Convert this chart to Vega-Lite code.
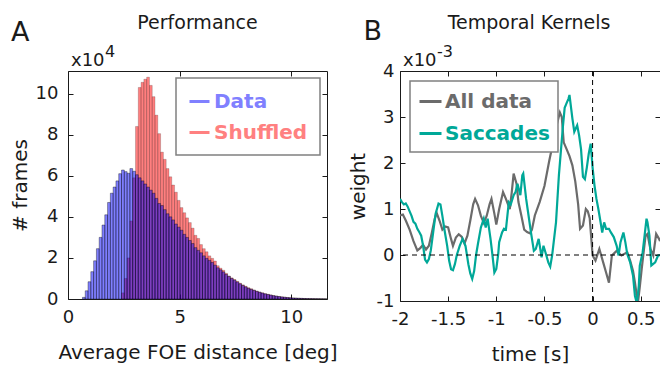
{
  "$schema": "https://vega.github.io/schema/vega-lite/v6.json",
  "background": "white",
  "padding": {"left": 9, "top": 13, "right": 0, "bottom": 0},
  "spacing": 73,
  "bounds": "flush",
  "config": {
    "font": "DejaVu Sans",
    "view": {"stroke": "#1a1a1a", "strokeWidth": 1},
    "axis": {
      "domain": false, "grid": false, "tickColor": "#1a1a1a", "tickSize": -5, "tickWidth": 1, "labelFlush": false,
      "labelColor": "#1a1a1a", "titleColor": "#1a1a1a", "labelFontSize": 18, "titleFontSize": 20,
      "titleFontWeight": "normal", "labelFont": "DejaVu Sans", "titleFont": "DejaVu Sans"
    },
    "text": {"font": "DejaVu Sans", "color": "#1a1a1a"}
  },
  "resolve": {"scale": {"x": "independent", "y": "independent", "fill": "independent", "color": "independent"}},
  "hconcat": [
    {
      "width": 259,
      "height": 228,
      "resolve": {"axis": {"x": "independent", "y": "independent"}},
      "layer": [
        {
          "data": {"values": [
            {"series": "Shuffled", "bin_start": 2.375, "frames": 0.3},
            {"series": "Shuffled", "bin_start": 2.5, "frames": 1.0},
            {"series": "Shuffled", "bin_start": 2.625, "frames": 2.0},
            {"series": "Shuffled", "bin_start": 2.75, "frames": 3.8},
            {"series": "Shuffled", "bin_start": 2.875, "frames": 5.9},
            {"series": "Shuffled", "bin_start": 3.0, "frames": 8.4},
            {"series": "Shuffled", "bin_start": 3.125, "frames": 10.3},
            {"series": "Shuffled", "bin_start": 3.25, "frames": 10.55},
            {"series": "Shuffled", "bin_start": 3.375, "frames": 10.7},
            {"series": "Shuffled", "bin_start": 3.5, "frames": 10.8},
            {"series": "Shuffled", "bin_start": 3.625, "frames": 10.4},
            {"series": "Shuffled", "bin_start": 3.75, "frames": 9.85},
            {"series": "Shuffled", "bin_start": 3.875, "frames": 8.95},
            {"series": "Shuffled", "bin_start": 4.0, "frames": 8.05},
            {"series": "Shuffled", "bin_start": 4.125, "frames": 7.15},
            {"series": "Shuffled", "bin_start": 4.25, "frames": 6.8},
            {"series": "Shuffled", "bin_start": 4.375, "frames": 6.35},
            {"series": "Shuffled", "bin_start": 4.5, "frames": 5.95},
            {"series": "Shuffled", "bin_start": 4.625, "frames": 5.55},
            {"series": "Shuffled", "bin_start": 4.75, "frames": 5.2},
            {"series": "Shuffled", "bin_start": 4.875, "frames": 4.8},
            {"series": "Shuffled", "bin_start": 5.0, "frames": 4.45},
            {"series": "Shuffled", "bin_start": 5.125, "frames": 4.2},
            {"series": "Shuffled", "bin_start": 5.25, "frames": 3.95},
            {"series": "Shuffled", "bin_start": 5.375, "frames": 3.72},
            {"series": "Shuffled", "bin_start": 5.5, "frames": 3.45},
            {"series": "Shuffled", "bin_start": 5.625, "frames": 3.1},
            {"series": "Shuffled", "bin_start": 5.75, "frames": 2.95},
            {"series": "Shuffled", "bin_start": 5.875, "frames": 2.65},
            {"series": "Shuffled", "bin_start": 6.0, "frames": 2.45},
            {"series": "Shuffled", "bin_start": 6.125, "frames": 2.3},
            {"series": "Shuffled", "bin_start": 6.25, "frames": 2.1},
            {"series": "Shuffled", "bin_start": 6.375, "frames": 1.98},
            {"series": "Shuffled", "bin_start": 6.5, "frames": 1.85},
            {"series": "Shuffled", "bin_start": 6.625, "frames": 1.62},
            {"series": "Shuffled", "bin_start": 6.75, "frames": 1.5},
            {"series": "Shuffled", "bin_start": 6.875, "frames": 1.4},
            {"series": "Shuffled", "bin_start": 7.0, "frames": 1.25},
            {"series": "Shuffled", "bin_start": 7.125, "frames": 1.12},
            {"series": "Shuffled", "bin_start": 7.25, "frames": 1.03},
            {"series": "Shuffled", "bin_start": 7.375, "frames": 0.95},
            {"series": "Shuffled", "bin_start": 7.5, "frames": 0.86},
            {"series": "Shuffled", "bin_start": 7.625, "frames": 0.77},
            {"series": "Shuffled", "bin_start": 7.75, "frames": 0.69},
            {"series": "Shuffled", "bin_start": 7.875, "frames": 0.62},
            {"series": "Shuffled", "bin_start": 8.0, "frames": 0.55},
            {"series": "Shuffled", "bin_start": 8.125, "frames": 0.5},
            {"series": "Shuffled", "bin_start": 8.25, "frames": 0.44},
            {"series": "Shuffled", "bin_start": 8.375, "frames": 0.39},
            {"series": "Shuffled", "bin_start": 8.5, "frames": 0.34},
            {"series": "Shuffled", "bin_start": 8.625, "frames": 0.3},
            {"series": "Shuffled", "bin_start": 8.75, "frames": 0.26},
            {"series": "Shuffled", "bin_start": 8.875, "frames": 0.23},
            {"series": "Shuffled", "bin_start": 9.0, "frames": 0.2},
            {"series": "Shuffled", "bin_start": 9.125, "frames": 0.17},
            {"series": "Shuffled", "bin_start": 9.25, "frames": 0.145},
            {"series": "Shuffled", "bin_start": 9.375, "frames": 0.125},
            {"series": "Shuffled", "bin_start": 9.5, "frames": 0.105},
            {"series": "Shuffled", "bin_start": 9.625, "frames": 0.09},
            {"series": "Shuffled", "bin_start": 9.75, "frames": 0.075},
            {"series": "Shuffled", "bin_start": 9.875, "frames": 0.063},
            {"series": "Shuffled", "bin_start": 10.0, "frames": 0.053},
            {"series": "Shuffled", "bin_start": 10.125, "frames": 0.045},
            {"series": "Shuffled", "bin_start": 10.25, "frames": 0.037},
            {"series": "Shuffled", "bin_start": 10.375, "frames": 0.031},
            {"series": "Shuffled", "bin_start": 10.5, "frames": 0.026},
            {"series": "Shuffled", "bin_start": 10.625, "frames": 0.021},
            {"series": "Shuffled", "bin_start": 10.75, "frames": 0.018},
            {"series": "Shuffled", "bin_start": 10.875, "frames": 0.015},
            {"series": "Shuffled", "bin_start": 11.0, "frames": 0.012},
            {"series": "Shuffled", "bin_start": 11.125, "frames": 0.01},
            {"series": "Shuffled", "bin_start": 11.25, "frames": 0.008},
            {"series": "Shuffled", "bin_start": 11.375, "frames": 0.006},
            {"series": "Shuffled", "bin_start": 11.5, "frames": 0.005},
            {"series": "Data", "bin_start": 0.625, "frames": 0.08},
            {"series": "Data", "bin_start": 0.75, "frames": 0.4},
            {"series": "Data", "bin_start": 0.875, "frames": 0.84},
            {"series": "Data", "bin_start": 1.0, "frames": 1.33},
            {"series": "Data", "bin_start": 1.125, "frames": 1.86},
            {"series": "Data", "bin_start": 1.25, "frames": 2.45},
            {"series": "Data", "bin_start": 1.375, "frames": 3.0},
            {"series": "Data", "bin_start": 1.5, "frames": 3.6},
            {"series": "Data", "bin_start": 1.625, "frames": 4.1},
            {"series": "Data", "bin_start": 1.75, "frames": 4.7},
            {"series": "Data", "bin_start": 1.875, "frames": 5.15},
            {"series": "Data", "bin_start": 2.0, "frames": 5.45},
            {"series": "Data", "bin_start": 2.125, "frames": 5.75},
            {"series": "Data", "bin_start": 2.25, "frames": 6.1},
            {"series": "Data", "bin_start": 2.375, "frames": 6.28},
            {"series": "Data", "bin_start": 2.5, "frames": 6.2},
            {"series": "Data", "bin_start": 2.625, "frames": 6.12},
            {"series": "Data", "bin_start": 2.75, "frames": 6.35},
            {"series": "Data", "bin_start": 2.875, "frames": 6.22},
            {"series": "Data", "bin_start": 3.0, "frames": 6.05},
            {"series": "Data", "bin_start": 3.125, "frames": 5.9},
            {"series": "Data", "bin_start": 3.25, "frames": 5.75},
            {"series": "Data", "bin_start": 3.375, "frames": 5.6},
            {"series": "Data", "bin_start": 3.5, "frames": 5.45},
            {"series": "Data", "bin_start": 3.625, "frames": 5.3},
            {"series": "Data", "bin_start": 3.75, "frames": 5.15},
            {"series": "Data", "bin_start": 3.875, "frames": 4.9},
            {"series": "Data", "bin_start": 4.0, "frames": 4.65},
            {"series": "Data", "bin_start": 4.125, "frames": 4.55},
            {"series": "Data", "bin_start": 4.25, "frames": 4.35},
            {"series": "Data", "bin_start": 4.375, "frames": 4.15},
            {"series": "Data", "bin_start": 4.5, "frames": 4.0},
            {"series": "Data", "bin_start": 4.625, "frames": 3.85},
            {"series": "Data", "bin_start": 4.75, "frames": 3.65},
            {"series": "Data", "bin_start": 4.875, "frames": 3.5},
            {"series": "Data", "bin_start": 5.0, "frames": 3.35},
            {"series": "Data", "bin_start": 5.125, "frames": 3.15},
            {"series": "Data", "bin_start": 5.25, "frames": 3.0},
            {"series": "Data", "bin_start": 5.375, "frames": 2.85},
            {"series": "Data", "bin_start": 5.5, "frames": 2.7},
            {"series": "Data", "bin_start": 5.625, "frames": 2.5},
            {"series": "Data", "bin_start": 5.75, "frames": 2.37},
            {"series": "Data", "bin_start": 5.875, "frames": 2.25},
            {"series": "Data", "bin_start": 6.0, "frames": 2.1},
            {"series": "Data", "bin_start": 6.125, "frames": 1.98},
            {"series": "Data", "bin_start": 6.25, "frames": 1.88},
            {"series": "Data", "bin_start": 6.375, "frames": 1.78},
            {"series": "Data", "bin_start": 6.5, "frames": 1.65},
            {"series": "Data", "bin_start": 6.625, "frames": 1.52},
            {"series": "Data", "bin_start": 6.75, "frames": 1.42},
            {"series": "Data", "bin_start": 6.875, "frames": 1.32},
            {"series": "Data", "bin_start": 7.0, "frames": 1.2},
            {"series": "Data", "bin_start": 7.125, "frames": 1.1},
            {"series": "Data", "bin_start": 7.25, "frames": 1.0},
            {"series": "Data", "bin_start": 7.375, "frames": 0.92},
            {"series": "Data", "bin_start": 7.5, "frames": 0.83},
            {"series": "Data", "bin_start": 7.625, "frames": 0.74},
            {"series": "Data", "bin_start": 7.75, "frames": 0.66},
            {"series": "Data", "bin_start": 7.875, "frames": 0.59},
            {"series": "Data", "bin_start": 8.0, "frames": 0.52},
            {"series": "Data", "bin_start": 8.125, "frames": 0.47},
            {"series": "Data", "bin_start": 8.25, "frames": 0.42},
            {"series": "Data", "bin_start": 8.375, "frames": 0.37},
            {"series": "Data", "bin_start": 8.5, "frames": 0.33},
            {"series": "Data", "bin_start": 8.625, "frames": 0.29},
            {"series": "Data", "bin_start": 8.75, "frames": 0.25},
            {"series": "Data", "bin_start": 8.875, "frames": 0.22},
            {"series": "Data", "bin_start": 9.0, "frames": 0.19},
            {"series": "Data", "bin_start": 9.125, "frames": 0.16},
            {"series": "Data", "bin_start": 9.25, "frames": 0.14},
            {"series": "Data", "bin_start": 9.375, "frames": 0.12},
            {"series": "Data", "bin_start": 9.5, "frames": 0.1},
            {"series": "Data", "bin_start": 9.625, "frames": 0.085},
            {"series": "Data", "bin_start": 9.75, "frames": 0.07},
            {"series": "Data", "bin_start": 9.875, "frames": 0.06},
            {"series": "Data", "bin_start": 10.0, "frames": 0.05},
            {"series": "Data", "bin_start": 10.125, "frames": 0.042},
            {"series": "Data", "bin_start": 10.25, "frames": 0.035},
            {"series": "Data", "bin_start": 10.375, "frames": 0.03},
            {"series": "Data", "bin_start": 10.5, "frames": 0.025},
            {"series": "Data", "bin_start": 10.625, "frames": 0.02},
            {"series": "Data", "bin_start": 10.75, "frames": 0.017},
            {"series": "Data", "bin_start": 10.875, "frames": 0.014},
            {"series": "Data", "bin_start": 11.0, "frames": 0.012},
            {"series": "Data", "bin_start": 11.125, "frames": 0.01},
            {"series": "Data", "bin_start": 11.25, "frames": 0.008},
            {"series": "Data", "bin_start": 11.375, "frames": 0.006},
            {"series": "Data", "bin_start": 11.5, "frames": 0.005}
          ]},
          "mark": {"type": "bar", "stroke": "black", "strokeWidth": 0.6, "fillOpacity": 0.5, "binSpacing": 0, "clip": true},
          "encoding": {
            "x": {"field": "bin_start", "type": "quantitative", "bin": {"binned": true, "step": 0.125},
              "scale": {"domain": [0, 11.6], "nice": false, "zero": false},
              "axis": {"orient": "bottom", "values": [0, 5, 10], "labelExpr": "datum.value + ''", "title": "Average FOE distance [deg]", "labelPadding": 14, "titlePadding": 16}},
            "y": {"field": "frames", "type": "quantitative", "stack": null,
              "scale": {"domain": [0, 11.1], "nice": false},
              "axis": {"orient": "left", "values": [0, 2, 4, 6, 8, 10], "labelExpr": "datum.value + ''", "title": "# frames", "labelPadding": 15, "titlePadding": 5}},
            "fill": {"field": "series", "type": "nominal",
              "scale": {"domain": ["Data", "Shuffled"], "range": ["#0000ff", "#ff0000"]},
              "legend": {
                "orient": "top-right", "offset": 7, "title": null,
                "symbolType": "stroke", "symbolSize": 400, "symbolStrokeWidth": 3,
                "symbolStrokeColor": {"expr": "datum.value === 'Data' ? '#8080ff' : '#ff8080'"},
                "symbolOpacity": 1,
                "labelColor": {"expr": "datum.value === 'Data' ? '#8080ff' : '#ff8080'"},
                "labelFontSize": 20, "labelFontWeight": "bold", "labelOffset": 3,
                "padding": 12, "rowPadding": 9, "strokeColor": "#808080", "fillColor": "white",
                "encode": {
                  "legend": {"update": {"strokeWidth": {"value": 1.5}}}
                }
              }},
            "strokeOpacity": {"condition": {"test": "datum.series === 'Data'", "value": 0.6}, "value": 0.3}
          }
        },
        {
          "data": {"values": [{"label": "x10"}]},
          "mark": {"type": "text", "align": "left", "baseline": "alphabetic", "fontSize": 18, "dx": 3, "dy": -5},
          "encoding": {
            "x": {"datum": 0, "type": "quantitative", "axis": {"orient": "top", "values": [0, 5, 10], "labels": false, "title": null}},
            "y": {"datum": 11.1, "type": "quantitative", "axis": {"orient": "right", "values": [0, 2, 4, 6, 8, 10], "labels": false, "title": null}},
            "text": {"field": "label"}
          }
        },
        {
          "data": {"values": [{"label": "4"}]},
          "mark": {"type": "text", "align": "left", "baseline": "alphabetic", "fontSize": 16, "dx": 37, "dy": -14},
          "encoding": {
            "x": {"datum": 0, "type": "quantitative", "axis": null},
            "y": {"datum": 11.1, "type": "quantitative", "axis": null},
            "text": {"field": "label"}
          }
        },
        {
          "data": {"values": [{"label": "A"}]},
          "mark": {"type": "text", "align": "left", "baseline": "alphabetic", "fontSize": 27, "dy": -30},
          "encoding": {
            "x": {"datum": -2.55, "type": "quantitative", "axis": null},
            "y": {"datum": 11.1, "type": "quantitative", "axis": null},
            "text": {"field": "label"}
          }
        },
        {
          "data": {"values": [{"label": "Performance"}]},
          "mark": {"type": "text", "align": "center", "baseline": "alphabetic", "fontSize": 19, "dy": -42},
          "encoding": {
            "x": {"datum": 5.8, "type": "quantitative", "axis": null},
            "y": {"datum": 11.1, "type": "quantitative", "axis": null},
            "text": {"field": "label"}
          }
        }
      ]
    },
    {
      "width": 260,
      "height": 230,
      "resolve": {"axis": {"x": "independent", "y": "independent"}},
      "layer": [
        {
          "data": {"values": [
            {"series": "All data", "t": -2.0, "w": 0.86},
            {"series": "All data", "t": -1.97, "w": 0.88},
            {"series": "All data", "t": -1.94, "w": 0.75},
            {"series": "All data", "t": -1.9, "w": 0.55},
            {"series": "All data", "t": -1.86, "w": 0.3},
            {"series": "All data", "t": -1.82, "w": 0.1},
            {"series": "All data", "t": -1.79, "w": 0.15},
            {"series": "All data", "t": -1.76, "w": 0.22},
            {"series": "All data", "t": -1.73, "w": 0.12},
            {"series": "All data", "t": -1.7, "w": 0.2},
            {"series": "All data", "t": -1.67, "w": 0.48},
            {"series": "All data", "t": -1.64, "w": 0.78},
            {"series": "All data", "t": -1.62, "w": 0.92},
            {"series": "All data", "t": -1.59, "w": 0.75},
            {"series": "All data", "t": -1.56, "w": 0.55},
            {"series": "All data", "t": -1.53, "w": 0.62},
            {"series": "All data", "t": -1.5, "w": 0.6},
            {"series": "All data", "t": -1.47, "w": 0.35},
            {"series": "All data", "t": -1.45, "w": 0.2},
            {"series": "All data", "t": -1.42, "w": 0.38},
            {"series": "All data", "t": -1.39, "w": 0.45},
            {"series": "All data", "t": -1.36, "w": 0.4},
            {"series": "All data", "t": -1.33, "w": 0.25},
            {"series": "All data", "t": -1.3, "w": 0.42},
            {"series": "All data", "t": -1.27, "w": 0.75},
            {"series": "All data", "t": -1.24, "w": 1.1},
            {"series": "All data", "t": -1.22, "w": 1.22},
            {"series": "All data", "t": -1.19, "w": 1.08},
            {"series": "All data", "t": -1.16, "w": 0.85},
            {"series": "All data", "t": -1.13, "w": 0.7},
            {"series": "All data", "t": -1.1, "w": 0.85},
            {"series": "All data", "t": -1.07, "w": 1.1},
            {"series": "All data", "t": -1.05, "w": 1.22},
            {"series": "All data", "t": -1.02, "w": 0.9},
            {"series": "All data", "t": -1.0, "w": 0.66},
            {"series": "All data", "t": -0.97, "w": 1.0},
            {"series": "All data", "t": -0.93, "w": 1.37},
            {"series": "All data", "t": -0.9, "w": 1.22},
            {"series": "All data", "t": -0.86, "w": 1.0},
            {"series": "All data", "t": -0.84, "w": 1.35},
            {"series": "All data", "t": -0.82, "w": 1.77},
            {"series": "All data", "t": -0.79, "w": 1.55},
            {"series": "All data", "t": -0.77, "w": 1.15},
            {"series": "All data", "t": -0.74, "w": 0.86},
            {"series": "All data", "t": -0.71, "w": 0.55},
            {"series": "All data", "t": -0.68, "w": 0.5},
            {"series": "All data", "t": -0.65, "w": 0.47},
            {"series": "All data", "t": -0.63, "w": 0.55},
            {"series": "All data", "t": -0.6, "w": 0.86},
            {"series": "All data", "t": -0.55, "w": 1.15},
            {"series": "All data", "t": -0.5, "w": 1.5},
            {"series": "All data", "t": -0.45, "w": 2.05},
            {"series": "All data", "t": -0.4, "w": 2.55},
            {"series": "All data", "t": -0.37, "w": 2.85},
            {"series": "All data", "t": -0.34, "w": 3.1},
            {"series": "All data", "t": -0.32, "w": 3.0},
            {"series": "All data", "t": -0.3, "w": 2.45},
            {"series": "All data", "t": -0.27, "w": 2.3},
            {"series": "All data", "t": -0.24, "w": 2.15},
            {"series": "All data", "t": -0.21, "w": 1.95},
            {"series": "All data", "t": -0.18, "w": 1.6},
            {"series": "All data", "t": -0.15, "w": 1.1},
            {"series": "All data", "t": -0.13, "w": 0.57},
            {"series": "All data", "t": -0.1, "w": 0.64},
            {"series": "All data", "t": -0.07, "w": 1.0},
            {"series": "All data", "t": -0.05, "w": 0.95},
            {"series": "All data", "t": -0.03, "w": 0.8},
            {"series": "All data", "t": -0.015, "w": 0.4},
            {"series": "All data", "t": 0.0, "w": -0.01},
            {"series": "All data", "t": 0.03, "w": -0.12},
            {"series": "All data", "t": 0.07, "w": 0.13},
            {"series": "All data", "t": 0.11, "w": -0.16},
            {"series": "All data", "t": 0.14, "w": -0.38},
            {"series": "All data", "t": 0.17, "w": -0.6},
            {"series": "All data", "t": 0.2, "w": -0.01},
            {"series": "All data", "t": 0.25, "w": 0.09},
            {"series": "All data", "t": 0.3, "w": -0.01},
            {"series": "All data", "t": 0.36, "w": 0.06},
            {"series": "All data", "t": 0.39, "w": -0.12},
            {"series": "All data", "t": 0.42, "w": -0.35},
            {"series": "All data", "t": 0.44, "w": -0.6},
            {"series": "All data", "t": 0.47, "w": -1.05},
            {"series": "All data", "t": 0.49, "w": -0.7},
            {"series": "All data", "t": 0.51, "w": -0.3},
            {"series": "All data", "t": 0.55, "w": 0.42},
            {"series": "All data", "t": 0.57, "w": 0.46},
            {"series": "All data", "t": 0.6, "w": 0.13},
            {"series": "All data", "t": 0.63, "w": -0.01},
            {"series": "All data", "t": 0.66, "w": 0.46},
            {"series": "All data", "t": 0.69, "w": 0.35},
            {"series": "All data", "t": 0.7, "w": 0.3},
            {"series": "Saccades", "t": -2.0, "w": 1.22},
            {"series": "Saccades", "t": -1.98, "w": 1.15},
            {"series": "Saccades", "t": -1.96, "w": 1.1},
            {"series": "Saccades", "t": -1.94, "w": 1.12},
            {"series": "Saccades", "t": -1.92, "w": 1.05},
            {"series": "Saccades", "t": -1.9, "w": 0.95},
            {"series": "Saccades", "t": -1.88, "w": 0.85},
            {"series": "Saccades", "t": -1.86, "w": 0.72},
            {"series": "Saccades", "t": -1.84, "w": 0.68},
            {"series": "Saccades", "t": -1.82, "w": 0.57},
            {"series": "Saccades", "t": -1.8, "w": 0.5},
            {"series": "Saccades", "t": -1.78, "w": 0.42},
            {"series": "Saccades", "t": -1.76, "w": 0.2},
            {"series": "Saccades", "t": -1.74, "w": -0.1},
            {"series": "Saccades", "t": -1.72, "w": -0.16},
            {"series": "Saccades", "t": -1.7, "w": -0.09},
            {"series": "Saccades", "t": -1.68, "w": 0.1},
            {"series": "Saccades", "t": -1.66, "w": 0.42},
            {"series": "Saccades", "t": -1.63, "w": 0.9},
            {"series": "Saccades", "t": -1.6, "w": 1.12},
            {"series": "Saccades", "t": -1.58, "w": 1.1},
            {"series": "Saccades", "t": -1.56, "w": 0.85},
            {"series": "Saccades", "t": -1.54, "w": 0.57},
            {"series": "Saccades", "t": -1.51, "w": 0.2},
            {"series": "Saccades", "t": -1.49, "w": -0.12},
            {"series": "Saccades", "t": -1.47, "w": -0.31},
            {"series": "Saccades", "t": -1.45, "w": -0.33},
            {"series": "Saccades", "t": -1.43, "w": -0.2},
            {"series": "Saccades", "t": -1.41, "w": 0.0},
            {"series": "Saccades", "t": -1.38, "w": 0.2},
            {"series": "Saccades", "t": -1.35, "w": 0.35},
            {"series": "Saccades", "t": -1.32, "w": 0.2},
            {"series": "Saccades", "t": -1.29, "w": -0.2},
            {"series": "Saccades", "t": -1.27, "w": -0.4},
            {"series": "Saccades", "t": -1.25, "w": -0.52},
            {"series": "Saccades", "t": -1.23, "w": -0.35},
            {"series": "Saccades", "t": -1.21, "w": 0.0},
            {"series": "Saccades", "t": -1.19, "w": 0.25},
            {"series": "Saccades", "t": -1.16, "w": 0.6},
            {"series": "Saccades", "t": -1.13, "w": 0.79},
            {"series": "Saccades", "t": -1.11, "w": 0.6},
            {"series": "Saccades", "t": -1.09, "w": 0.79},
            {"series": "Saccades", "t": -1.06, "w": 0.35},
            {"series": "Saccades", "t": -1.04, "w": 0.0},
            {"series": "Saccades", "t": -1.02, "w": -0.38},
            {"series": "Saccades", "t": -1.0, "w": -0.3},
            {"series": "Saccades", "t": -0.98, "w": 0.02},
            {"series": "Saccades", "t": -0.97, "w": 0.28},
            {"series": "Saccades", "t": -0.94, "w": 0.49},
            {"series": "Saccades", "t": -0.92, "w": 0.57},
            {"series": "Saccades", "t": -0.9, "w": 0.55},
            {"series": "Saccades", "t": -0.87, "w": 1.15},
            {"series": "Saccades", "t": -0.85, "w": 1.1},
            {"series": "Saccades", "t": -0.82, "w": 1.3},
            {"series": "Saccades", "t": -0.8, "w": 1.37},
            {"series": "Saccades", "t": -0.78, "w": 1.55},
            {"series": "Saccades", "t": -0.75, "w": 1.3},
            {"series": "Saccades", "t": -0.73, "w": 1.73},
            {"series": "Saccades", "t": -0.72, "w": 1.77},
            {"series": "Saccades", "t": -0.69, "w": 1.22},
            {"series": "Saccades", "t": -0.67, "w": 0.93},
            {"series": "Saccades", "t": -0.64, "w": 0.49},
            {"series": "Saccades", "t": -0.61, "w": 0.09},
            {"series": "Saccades", "t": -0.59, "w": 0.13},
            {"series": "Saccades", "t": -0.56, "w": 0.35},
            {"series": "Saccades", "t": -0.54, "w": 0.09},
            {"series": "Saccades", "t": -0.53, "w": -0.05},
            {"series": "Saccades", "t": -0.51, "w": 0.2},
            {"series": "Saccades", "t": -0.48, "w": -0.01},
            {"series": "Saccades", "t": -0.46, "w": -0.16},
            {"series": "Saccades", "t": -0.44, "w": -0.25},
            {"series": "Saccades", "t": -0.42, "w": -0.01},
            {"series": "Saccades", "t": -0.38, "w": 0.71},
            {"series": "Saccades", "t": -0.35, "w": 1.73},
            {"series": "Saccades", "t": -0.31, "w": 2.75},
            {"series": "Saccades", "t": -0.29, "w": 3.2},
            {"series": "Saccades", "t": -0.27, "w": 3.3},
            {"series": "Saccades", "t": -0.25, "w": 3.4},
            {"series": "Saccades", "t": -0.24, "w": 3.48},
            {"series": "Saccades", "t": -0.21, "w": 2.97},
            {"series": "Saccades", "t": -0.19, "w": 2.68},
            {"series": "Saccades", "t": -0.16, "w": 2.82},
            {"series": "Saccades", "t": -0.14, "w": 2.6},
            {"series": "Saccades", "t": -0.12, "w": 2.3},
            {"series": "Saccades", "t": -0.1, "w": 1.7},
            {"series": "Saccades", "t": -0.08, "w": 1.65},
            {"series": "Saccades", "t": -0.06, "w": 1.9},
            {"series": "Saccades", "t": -0.04, "w": 2.2},
            {"series": "Saccades", "t": -0.02, "w": 2.42},
            {"series": "Saccades", "t": 0.0, "w": 1.9},
            {"series": "Saccades", "t": 0.02, "w": 1.51},
            {"series": "Saccades", "t": 0.04, "w": 1.22},
            {"series": "Saccades", "t": 0.06, "w": 1.0},
            {"series": "Saccades", "t": 0.08, "w": 0.75},
            {"series": "Saccades", "t": 0.1, "w": 0.49},
            {"series": "Saccades", "t": 0.12, "w": 0.71},
            {"series": "Saccades", "t": 0.14, "w": 0.57},
            {"series": "Saccades", "t": 0.17, "w": 0.57},
            {"series": "Saccades", "t": 0.19, "w": 0.49},
            {"series": "Saccades", "t": 0.22, "w": 0.39},
            {"series": "Saccades", "t": 0.25, "w": 0.2},
            {"series": "Saccades", "t": 0.27, "w": -0.01},
            {"series": "Saccades", "t": 0.29, "w": 0.28},
            {"series": "Saccades", "t": 0.32, "w": 0.49},
            {"series": "Saccades", "t": 0.34, "w": 0.28},
            {"series": "Saccades", "t": 0.36, "w": 0.02},
            {"series": "Saccades", "t": 0.39, "w": -0.16},
            {"series": "Saccades", "t": 0.42, "w": -0.45},
            {"series": "Saccades", "t": 0.44, "w": -0.89},
            {"series": "Saccades", "t": 0.46, "w": -1.05},
            {"series": "Saccades", "t": 0.48, "w": -0.67},
            {"series": "Saccades", "t": 0.49, "w": -0.23},
            {"series": "Saccades", "t": 0.52, "w": 0.06},
            {"series": "Saccades", "t": 0.54, "w": 0.42},
            {"series": "Saccades", "t": 0.56, "w": 0.79},
            {"series": "Saccades", "t": 0.57, "w": 0.71},
            {"series": "Saccades", "t": 0.59, "w": 0.42},
            {"series": "Saccades", "t": 0.61, "w": -0.23},
            {"series": "Saccades", "t": 0.65, "w": -0.16},
            {"series": "Saccades", "t": 0.68, "w": -0.01},
            {"series": "Saccades", "t": 0.7, "w": 0.0}
          ]},
          "mark": {"type": "line", "strokeWidth": 2.2, "clip": true},
          "encoding": {
            "x": {"field": "t", "type": "quantitative",
              "scale": {"domain": [-2, 0.7], "nice": false, "zero": false},
              "axis": {"orient": "bottom", "values": [-2, -1.5, -1, -0.5, 0, 0.5], "labelExpr": "datum.value + ''", "title": "time [s]", "labelPadding": 14, "titlePadding": 16}},
            "y": {"field": "w", "type": "quantitative",
              "scale": {"domain": [-1, 4], "nice": false, "zero": false},
              "axis": {"orient": "left", "values": [-1, 0, 1, 2, 3, 4], "labelExpr": "datum.value + ''", "title": "weight", "labelPadding": 11, "titlePadding": 8}},
            "color": {"field": "series", "type": "nominal",
              "scale": {"domain": ["All data", "Saccades"], "range": ["#6b6b6b", "#00a898"]},
              "legend": {
                "orient": "top-left", "offset": 10, "title": null,
                "symbolType": "stroke", "symbolSize": 484, "symbolStrokeWidth": 3,
                "labelFontSize": 20, "labelFontWeight": "bold", "labelOffset": 2,
                "padding": 8, "rowPadding": 9, "strokeColor": "#808080", "fillColor": "white",
                "encode": {
                  "labels": {"update": {"fill": {"signal": "datum.value === 'All data' ? '#6b6b6b' : '#00a898'"}}},
                  "legend": {"update": {"strokeWidth": {"value": 1.5}}}
                }
              }}
          }
        },
        {
          "data": {"values": [{"zero": 0}]},
          "mark": {"type": "rule", "strokeDash": [5, 4], "color": "black", "strokeWidth": 1},
          "encoding": {"y": {"field": "zero", "type": "quantitative", "axis": null}}
        },
        {
          "data": {"values": [{"zero": 0}]},
          "mark": {"type": "rule", "strokeDash": [5, 4], "color": "black", "strokeWidth": 1},
          "encoding": {"x": {"field": "zero", "type": "quantitative", "axis": null}}
        },
        {
          "data": {"values": [{"label": "x10"}]},
          "mark": {"type": "text", "align": "left", "baseline": "alphabetic", "fontSize": 18, "dx": 3, "dy": -5},
          "encoding": {
            "x": {"datum": -2, "type": "quantitative", "axis": {"orient": "top", "values": [-2, -1.5, -1, -0.5, 0, 0.5], "labels": false, "title": null}},
            "y": {"datum": 4, "type": "quantitative", "axis": {"orient": "right", "values": [-1, 0, 1, 2, 3, 4], "labels": false, "title": null}},
            "text": {"field": "label"}
          }
        },
        {
          "data": {"values": [{"label": "-3"}]},
          "mark": {"type": "text", "align": "left", "baseline": "alphabetic", "fontSize": 16, "dx": 37, "dy": -14},
          "encoding": {
            "x": {"datum": -2, "type": "quantitative", "axis": null},
            "y": {"datum": 4, "type": "quantitative", "axis": null},
            "text": {"field": "label"}
          }
        },
        {
          "data": {"values": [{"label": "B"}]},
          "mark": {"type": "text", "align": "left", "baseline": "alphabetic", "fontSize": 27, "dy": -31},
          "encoding": {
            "x": {"datum": -2.38, "type": "quantitative", "axis": null},
            "y": {"datum": 4, "type": "quantitative", "axis": null},
            "text": {"field": "label"}
          }
        },
        {
          "data": {"values": [{"label": "Temporal Kernels"}]},
          "mark": {"type": "text", "align": "center", "baseline": "alphabetic", "fontSize": 19, "dy": -42},
          "encoding": {
            "x": {"datum": -0.66, "type": "quantitative", "axis": null},
            "y": {"datum": 4, "type": "quantitative", "axis": null},
            "text": {"field": "label"}
          }
        }
      ]
    }
  ]
}
